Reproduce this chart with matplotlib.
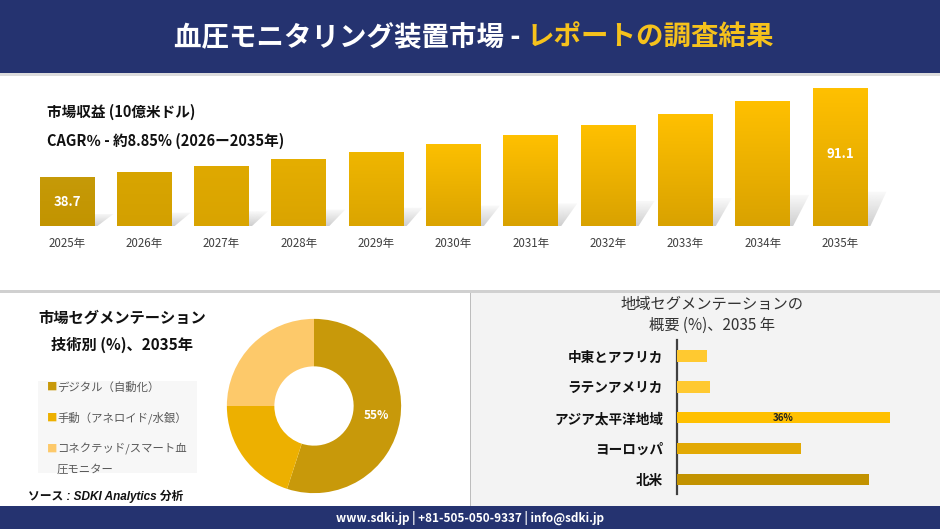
import matplotlib
matplotlib.use('Agg')
import matplotlib.pyplot as plt
import numpy as np
from matplotlib.colors import to_rgb
from matplotlib.patches import Rectangle, Polygon

plt.rcParams['font.family'] = ['Noto Sans CJK JP', 'DejaVu Sans']

# ---------------- data ----------------
years = ['2025年', '2026年', '2027年', '2028年', '2029年', '2030年',
         '2031年', '2032年', '2033年', '2034年', '2035年']
revenue = [38.7, 41.8, 45.3, 49.3, 53.6, 58.5, 63.6, 69.5, 76.2, 83.5, 91.1]
revenue_title = '市場収益 (10億米ドル)'
cagr_text = 'CAGR％ - 約8.85% (2026ー2035年)'

tech_labels = ['デジタル（自動化）', '手動（アネロイド/水銀）', 'コネクテッド/スマート血\n圧モニター']
tech_share = [55, 20, 25]

regions = ['中東とアフリカ', 'ラテンアメリカ', 'アジア太平洋地域', 'ヨーロッパ', '北米']
region_share = [5, 5.5, 36, 21, 32.5]

# ---------------- styles ----------------
NAVY = '#253370'
bar_top = ['#c69a08', '#d8a500', '#dfa900', '#e5ae00', '#efb600', '#fcbf00',
           '#ffc000', '#ffc000', '#ffc000', '#ffc000', '#ffc000']
bar_bot = ['#c29400', '#d3a000', '#d9a400', '#daa400', '#dba500', '#dba400',
           '#d9a200', '#d9a200', '#d9a200', '#d9a200', '#d9a200']
tech_colors = ['#c8990a', '#edb000', '#fdc96a']
region_colors = ['#ffc930', '#ffc930', '#ffc000', '#e2a904', '#c29200']

W, H = 940, 529
fig = plt.figure(figsize=(W / 100, H / 100), dpi=100)


def add_ax(x0, y0, x1, y1):
    return fig.add_axes([x0 / W, 1 - y1 / H, (x1 - x0) / W, (y1 - y0) / H])


# background canvas in pixel coordinates
bg = fig.add_axes([0, 0, 1, 1])
bg.set_xlim(0, W)
bg.set_ylim(H, 0)
bg.axis('off')

bg.add_patch(Rectangle((0, 0), W, 73, color=NAVY, lw=0))
bg.add_patch(Rectangle((0, 73), W, 3, color='#dcdcdc', lw=0))
bg.add_patch(Rectangle((0, 290), W, 2.5, color='#d0d0d0', lw=0))
bg.add_patch(Rectangle((471, 292.5), W - 471, 214, color='#f3f3f3', lw=0))
bg.add_patch(Rectangle((469.5, 292.5), 1.8, 214, color='#bdbdbd', lw=0))
bg.add_patch(Rectangle((0, 506), W, 23, color=NAVY, lw=0))

# header title
bg.text(521, 38, '血圧モニタリング装置市場 -', color='white', fontsize=19.8, fontweight='bold',
        ha='right', va='center')
bg.text(527, 38, 'レポートの調査結果', color='#f6c21c', fontsize=19.8, fontweight='bold',
        ha='left', va='center')

# top panel titles
bg.text(47, 112, revenue_title, fontsize=10.5, fontweight='bold', color='#111111',
        ha='left', va='center')
bg.text(47, 141, cagr_text, fontsize=10.5, fontweight='bold', color='#111111',
        ha='left', va='center')

# ---------------- top bar chart ----------------
ax1 = add_ax(0, 80, W, 226)
step_px, yscale = 77.3, 1.698
base = 10.4
xlim = (-67 / step_px, (W - 67) / step_px)
ylim = (base, base + 146 / yscale)
ax1.axis('off')
bw = 0.71
xs = np.arange(len(years))
ax1.bar(xs, revenue, width=bw, color='none', zorder=3)
k = 16 / step_px
g = 3 / step_px
for i, v in enumerate(revenue):
    xl, xr = xs[i] - bw / 2, xs[i] + bw / 2
    sh = 0.25 * (v - base)
    poly = Polygon([(xl, base), (xr + g, base), (xr + k + g, base + sh),
                    (xl + k, base + sh)], closed=True, fc='none', ec='none')
    poly.set_transform(ax1.transData)
    shimg = np.zeros((64, 1, 4))
    shimg[..., :3] = 0.80
    shimg[..., 3] = np.linspace(0.1, 0.95, 64)[:, None]
    im = ax1.imshow(shimg, extent=(xl, xr + k + g, base, base + sh), origin='upper',
                    aspect='auto', zorder=1, interpolation='bilinear')
    im.set_clip_path(poly)
    t, b = np.array(to_rgb(bar_top[i])), np.array(to_rgb(bar_bot[i]))
    grad = np.linspace(0, 1, 64)[:, None, None]
    img = t[None, None, :] * (1 - grad) + b[None, None, :] * grad
    ax1.imshow(img, extent=(xl, xr, base, v), origin='upper', aspect='auto', zorder=4,
               interpolation='bilinear')
    ax1.text(xs[i], base - 10.5 / yscale, years[i], ha='center', va='top',
             fontsize=8.3, color='#404040', clip_on=False)
ax1.set_xlim(*xlim)
ax1.set_ylim(*ylim)
for i in (0, len(revenue) - 1):
    ax1.text(xs[i], (revenue[i] + base) / 2 + (2 if i else 0), f'{revenue[i]}', ha='center',
             va='center', color='white', fontsize=9.5, fontweight='bold', zorder=6)

# ---------------- bottom-left: donut ----------------
bg.text(122, 318, '市場セグメンテーション', fontsize=11, fontweight='bold', color='#111111',
        ha='center', va='center')
bg.text(122, 345, '技術別 (%)、2035年', fontsize=11, fontweight='bold', color='#111111',
        ha='center', va='center')
bg.add_patch(Rectangle((38, 381), 159, 92, color='#f7f7f7', lw=0))
ly = [387, 418, 449]
for i, lab in enumerate(tech_labels):
    bg.text(47, ly[i], '■', color=tech_colors[i], fontsize=7.5, ha='left', va='center')
    for j, line in enumerate(lab.split('\n')):
        bg.text(57, ly[i] + 20 * j, line, color='#595959', fontsize=8.2, ha='left',
                va='center')
bg.text(28, 496, 'ソース : SDKI Analytics 分析', fontsize=8.5, style='italic',
        family=['Liberation Sans', 'Noto Sans CJK JP'], fontweight='bold',
        color='#111111', ha='left', va='center')

ax2 = add_ax(226, 318, 402, 494)
ax2.pie(tech_share, colors=tech_colors, startangle=90, counterclock=False, radius=1,
        wedgeprops=dict(width=0.545, linewidth=0))
ax2.set_xlim(-1.01, 1.01)
ax2.set_ylim(-1.01, 1.01)
ax2.set_aspect('equal')
mid = np.deg2rad(90 - 360 * (tech_share[0] / 2) / sum(tech_share))
ax2.text(0.73 * np.cos(mid), 0.73 * np.sin(mid), f'{tech_share[0]}%', ha='center',
         va='center', color='white', fontsize=8.5, fontweight='bold')

# ---------------- bottom-right: region bars ----------------
bg.text(712, 305, '地域セグメンテーションの', fontsize=11, color='#333333', ha='center',
        va='center')
bg.text(712, 325, '概要 (%)、2035 年', fontsize=11, color='#333333', ha='center',
        va='center')
ax3 = add_ax(677, 340, 920, 494)
ax3.set_facecolor('none')
ypos = np.arange(len(regions))
ax3.barh(ypos, region_share, height=0.37, color=region_colors, zorder=3)
ax3.set_xlim(0, (920 - 677) / 5.92)
ax3.set_ylim(4.48, -0.52)
for s in ['top', 'right', 'bottom']:
    ax3.spines[s].set_visible(False)
ax3.spines['left'].set_color('#404040')
ax3.spines['left'].set_linewidth(1.6)
ax3.set_xticks([])
ax3.set_yticks(ypos)
ax3.set_yticklabels(regions, fontsize=9.8, fontweight='bold', color='#111111')
ax3.tick_params(axis='y', length=0, pad=10)
imax = int(np.argmax(region_share))
ax3.text(region_share[imax] / 2, ypos[imax], f'{region_share[imax]:g}%', ha='center',
         va='center', fontsize=7, fontweight='bold', color='#222222', zorder=4)

# footer
bg.text(470, 518, 'www.sdki.jp | +81-505-050-9337 | info@sdki.jp', color='white',
        fontsize=8.5, fontweight='bold', ha='center', va='center')

fig.savefig('out.png', dpi=100)
